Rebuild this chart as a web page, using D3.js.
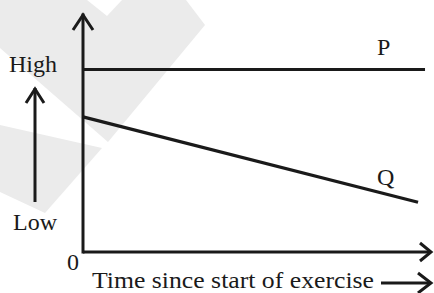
<!DOCTYPE html>
<html>
<head>
<meta charset="utf-8">
<script src="https://cdn.jsdelivr.net/npm/d3@7"></script>
<style>
  body { margin: 0; background: #fff; }
  text { font-family: "Liberation Serif", "DejaVu Serif", serif; fill: #1a1a1a; }
</style>
</head>
<body>
<svg id="chart"></svg>
<script>
// level over time, 0-100 on both axes
var seriesNames = ["P", "Q"];
var pTime = [0, 98];
var pLevel = [77, 77];
var qTime = [0, 96];
var qLevel = [57, 21];
var levelLabels = ["High", "Low"];
var xTitle = "Time since start of exercise";

var width = 434,
  height = 293;

var svg = d3.select("#chart").attr("width", width).attr("height", height);

// faint background watermark
var wm = [
  [[0, 0], [87, 0], [107, 16], [122, 0], [186, 0], [205, 25], [108, 142], [0, 48]],
  [[0, 125], [102, 148], [45, 213], [0, 192]]
];
svg.selectAll(".wm")
  .data(wm)
  .enter()
  .append("path")
  .attr("class", "wm")
  .attr("d", function (d) { return "M" + d.join("L") + "Z"; })
  .attr("fill", "#ebebeb");

var x = d3.scaleLinear().domain([0, 100]).range([83, 432]);
var y = d3.scaleLinear().domain([0, 100]).range([252, 15]);

var ink = "#1a1a1a";

// axes
var axes = svg.append("g").attr("stroke", ink).attr("stroke-width", 3).attr("fill", "none");
axes.append("path")
  .attr("d", "M" + x(0) + "," + y(0) + "L" + x(0) + "," + y(100))
  .attr("stroke-linecap", "square");
axes.append("path")
  .attr("d", "M" + (x(0) - 10) + "," + (y(100) + 15) + "L" + x(0) + "," + y(100) + "L" + (x(0) + 10) + "," + (y(100) + 15));
axes.append("path")
  .attr("d", "M" + x(0) + "," + y(0) + "L" + (x(100) - 1) + "," + y(0));
axes.append("path")
  .attr("d", "M" + (x(100) - 12) + "," + (y(0) - 9) + "L" + (x(100) - 1) + "," + y(0) + "L" + (x(100) - 12) + "," + (y(0) + 9));

// level arrow on the left
axes.append("path").attr("d", "M35,202L35,88");
axes.append("path").attr("d", "M26,103L35,89L44,103");

// time arrow under the title
axes.append("path").attr("d", "M381,283L431,283");
axes.append("path").attr("d", "M418,273L431,283L418,293");

// series
var line = d3.line()
  .x(function (d) { return x(d[0]); })
  .y(function (d) { return y(d[1]); });

var series = [d3.zip(pTime, pLevel), d3.zip(qTime, qLevel)];

svg.selectAll(".series")
  .data(series)
  .enter()
  .append("path")
  .attr("class", "series")
  .attr("d", line)
  .attr("fill", "none")
  .attr("stroke", ink)
  .attr("stroke-width", 3.2);

// labels
svg.append("text").attr("x", 377).attr("y", 55).attr("font-size", 24).text(seriesNames[0]);
svg.append("text").attr("x", 377).attr("y", 185).attr("font-size", 24).text(seriesNames[1]);

svg.append("text").attr("x", 9).attr("y", 72).attr("font-size", 24).text(levelLabels[0]);
svg.append("text").attr("x", 13).attr("y", 230).attr("font-size", 24).text(levelLabels[1]);
svg.append("text").attr("x", 67).attr("y", 270).attr("font-size", 24).text("0");

svg.append("text")
  .attr("x", 92)
  .attr("y", 288)
  .attr("font-size", 23)
  .attr("textLength", 282)
  .attr("lengthAdjust", "spacingAndGlyphs")
  .text(xTitle);
</script>
</body>
</html>
